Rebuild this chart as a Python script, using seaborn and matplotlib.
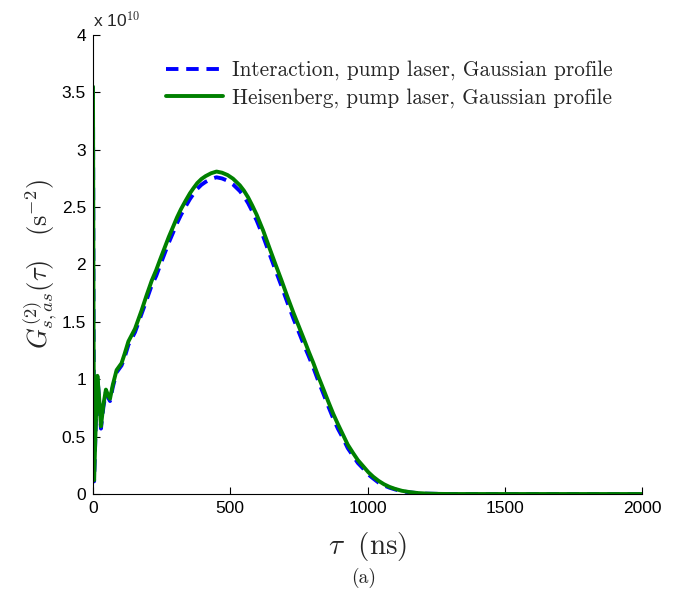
import matplotlib
matplotlib.use("Agg")
import matplotlib.pyplot as plt
import seaborn as sns
import pandas as pd

# time axis (ns) and G2 values in units of 1e10 s^-2
tau = [0, 2, 4, 10, 16, 22, 29, 38, 47, 55, 62, 72, 86, 104, 115, 129, 153, 177,
       195, 214, 230, 244, 260, 276, 292, 306, 320, 336, 353, 366, 380, 395, 410,
       430, 450, 470, 490, 510, 535, 550, 565, 580, 596, 620, 645, 665, 687,
       708, 730, 750, 770, 786, 803, 820, 840, 858, 875, 892, 910, 928, 948, 965,
       985, 1003, 1021, 1040, 1060, 1080, 1100, 1125, 1155, 1185, 1215, 1260, 1300, 2000]
heisenberg = [3.55, 1.5, 0.12, 0.6, 1.03, 0.85, 0.59, 0.78, 0.91, 0.86, 0.83, 0.95, 1.08,
              1.14, 1.22, 1.33, 1.44, 1.60,
              1.73, 1.86, 1.95, 2.04, 2.14, 2.24, 2.33, 2.41, 2.48, 2.55, 2.62, 2.665,
              2.71, 2.745, 2.77, 2.795, 2.81, 2.80, 2.78, 2.748, 2.69, 2.643, 2.585,
              2.515, 2.435, 2.295, 2.13, 2.00, 1.86, 1.72, 1.58, 1.46, 1.34, 1.24, 1.14,
              1.03, 0.91, 0.80, 0.70, 0.61, 0.52, 0.43, 0.355, 0.295, 0.24, 0.19,
              0.15, 0.115, 0.085, 0.062, 0.045, 0.028, 0.016, 0.008, 0.004, 0.001, 0.0, 0.0]
interaction = [3.55, 1.5, 0.11, 0.6, 1.02, 0.84, 0.57, 0.76, 0.89, 0.84, 0.81, 0.93, 1.06,
               1.12, 1.19, 1.30, 1.41, 1.57,
               1.69, 1.82, 1.90, 1.99, 2.09, 2.19, 2.28, 2.36, 2.43, 2.50, 2.57, 2.615,
               2.66, 2.695, 2.72, 2.745, 2.76, 2.75, 2.73, 2.698, 2.64, 2.593, 2.535,
               2.465, 2.385, 2.245, 2.08, 1.95, 1.81, 1.67, 1.53, 1.41, 1.29, 1.20, 1.10,
               0.99, 0.87, 0.76, 0.66, 0.57, 0.49, 0.40, 0.33, 0.27, 0.22, 0.17,
               0.135, 0.10, 0.075, 0.055, 0.04, 0.024, 0.014, 0.007, 0.003, 0.001, 0.0, 0.0]
labels = ["Interaction, pump laser, Gaussian profile",
          "Heisenberg, pump laser, Gaussian profile"]
xticks = [0, 500, 1000, 1500, 2000]
yticks = [0, 0.5, 1, 1.5, 2, 2.5, 3, 3.5, 4]
ytick_labels = ["0", "0.5", "1", "1.5", "2", "2.5", "3", "3.5", "4"]

sns.set_style("white")
plt.rcParams["font.family"] = ["Liberation Sans", "DejaVu Sans"]
plt.rcParams["mathtext.fontset"] = "cm"

df = pd.DataFrame({"tau": tau * 2,
                   "G": interaction + heisenberg,
                   "series": [labels[0]] * len(tau) + [labels[1]] * len(tau)})

fig = plt.figure(figsize=(6.85, 5.93), dpi=100)
ax = fig.add_axes([93/685, 1 - 494/593, (642 - 93)/685, (494 - 35)/593])

sns.lineplot(data=df, x="tau", y="G", hue="series", style="series",
             palette={labels[0]: "#0000ff", labels[1]: "#008000"},
             dashes={labels[0]: (3.2, 2.0), labels[1]: ""},
             sort=False, estimator=None, linewidth=2.8, ax=ax)

ax.set_xlim(0, 2000)
ax.set_ylim(0, 4)
ax.set_xticks(xticks)
ax.set_xticklabels([str(t) for t in xticks])
ax.set_yticks(yticks)
ax.set_yticklabels(ytick_labels)
ax.tick_params(direction="in", length=5, width=0.8, labelsize=12.5, colors="black",
               pad=5, bottom=True, left=True)
for s in ["top", "right"]:
    ax.spines[s].set_visible(False)
for s in ["left", "bottom"]:
    ax.spines[s].set_color("black")
    ax.spines[s].set_linewidth(0.8)

ax.set_xlabel(r"$\tau\ \ (\mathrm{ns})$", fontsize=21, labelpad=10)
ax.set_ylabel(r"$G^{(2)}_{s,as}(\tau)\quad(\mathrm{s}^{-2})$", fontsize=19, labelpad=2)
ax.text(0, 4.04, r"x 10$^{10}$", transform=ax.transData, fontsize=12.5,
        ha="left", va="bottom", family="Liberation Sans")
fig.text((93 + 642) / 2 / 685 - 0.005, 1 - 578/593, "(a)", fontsize=14,
         ha="center", va="center", family="cmr10")

leg = ax.legend(loc="upper right", bbox_to_anchor=(0.973, 0.977), frameon=False,
                prop={"family": "cmr10", "size": 15.3}, handlelength=2.7,
                handletextpad=0.4, labelspacing=0.35, borderaxespad=0.3)
leg.set_title(None)

fig.savefig("out.png", dpi=100)
